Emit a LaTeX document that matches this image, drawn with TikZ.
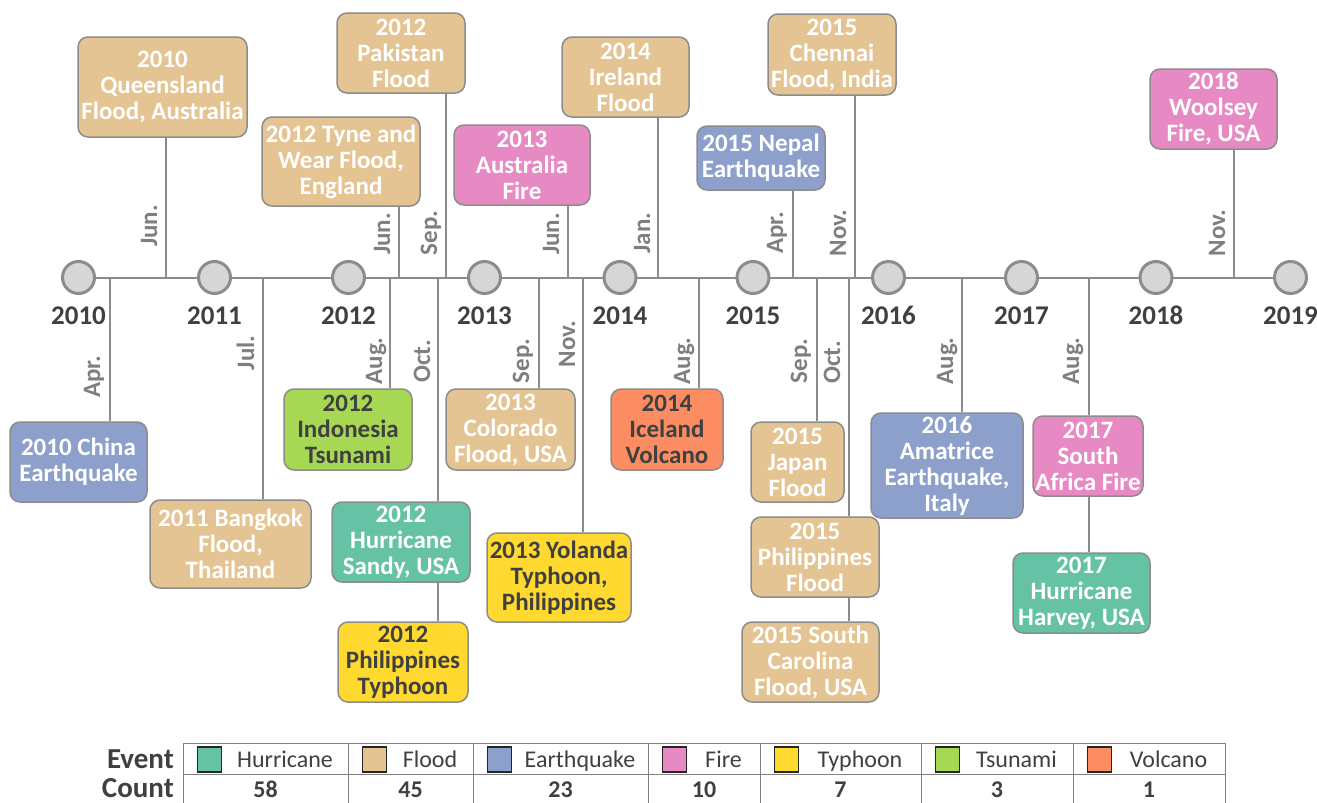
\documentclass[tikz,border=0pt]{standalone}
\usepackage{fontspec}
\setmainfont{Carlito}
\usetikzlibrary{calc}
\definecolor{hurr}{HTML}{66C2A5}
\definecolor{flood}{HTML}{E5C494}
\definecolor{quake}{HTML}{8DA0CB}
\definecolor{fire}{HTML}{E78AC3}
\definecolor{typh}{HTML}{FFD92F}
\definecolor{tsun}{HTML}{A6D854}
\definecolor{volc}{HTML}{FC8D62}
\definecolor{dark}{HTML}{404040}
\definecolor{linegray}{HTML}{8C8C8C}
\definecolor{mongray}{HTML}{7F7F7F}
\definecolor{circfill}{HTML}{D6D6D6}
\definecolor{tabline}{HTML}{808080}
\definecolor{swline}{HTML}{262626}
\tikzset{
  ev/.style={draw=linegray, line width=1.5pt, rounded corners=10pt, inner sep=0pt,
    align=center, text=white, font=\fontsize{25}{26}\selectfont\bfseries},
  stem/.style={draw=linegray, line width=2pt},
  yearcirc/.style={circle, draw=linegray, fill=circfill, line width=3pt, minimum size=32pt, inner sep=0pt},
  yearlab/.style={anchor=base, text=dark, inner sep=0pt, font=\fontsize{27}{27}\selectfont\bfseries},
  mon/.style={rotate=90, anchor=base, text=mongray, inner sep=0pt, font=\fontsize{25}{25}\selectfont\bfseries},
  tab/.style={draw=tabline, line width=1pt},
  swatch/.style={draw=swline, line width=1.2pt, minimum width=24pt, minimum height=25pt, inner sep=0pt},
  leglab/.style={anchor=base, text=dark, inner sep=0pt, font=\fontsize{24}{24}\selectfont},
  cnt/.style={anchor=base, text=dark, inner sep=0pt, font=\fontsize{24}{24}\selectfont\bfseries},
  rowlab/.style={anchor=base east, text=dark, inner sep=0pt, font=\fontsize{29}{29}\selectfont\bfseries}
}
\newcommand\evnode[7][]{%
  \node[ev,#1,minimum width={#5-#3},minimum height={#6-#4}] (#2) at ({(#3+#5)/2},{(#4+#6)/2}) {#7};}
\begin{document}
\begin{tikzpicture}[x=1pt,y=-1pt]
\useasboundingbox (0,0) rectangle (1317,803);
% year coordinates
\coordinate (y2010) at (78.5,277.5);
\coordinate (y2011) at (214.5,277.5);
\coordinate (y2012) at (348.5,277.5);
\coordinate (y2013) at (484.5,277.5);
\coordinate (y2014) at (620,277.5);
\coordinate (y2015) at (753,277.5);
\coordinate (y2016) at (888.5,277.5);
\coordinate (y2017) at (1021.5,277.5);
\coordinate (y2018) at (1156,277.5);
\coordinate (y2019) at (1290.5,277.5);
\draw[stem] (y2010) -- (y2019);
% stem points on timeline
\foreach \n/\x in {sq/166,sty/399,spk/446,saf/568,sir/658,snp/793,sch/855,swo/1234,
  scn/110,sbk/263,sin/390,ssa/438,sco/539,syo/583,sic/699,sjp/817,spf/849,sam/962,ssf/1089}
  {\coordinate (\n) at (\x,277.5);}
% top events
\evnode[fill=flood]{bq}{78}{37}{247}{137}{2010\\Queensland\\Flood, Australia}
\evnode[fill=flood]{bty}{262}{117}{420}{206}{2012 Tyne and\\Wear Flood,\\England}
\evnode[fill=flood]{bpk}{337}{13}{465}{93}{2012\\Pakistan\\Flood}
\evnode[fill=fire]{baf}{454}{125}{590}{205}{2013\\Australia\\Fire}
\evnode[fill=flood]{bir}{562}{37}{689}{117}{2014\\Ireland\\Flood}
\evnode[fill=quake]{bnp}{697}{126}{825}{190}{2015 Nepal\\Earthquake}
\evnode[fill=flood]{bch}{768}{14}{896}{95}{2015\\Chennai\\Flood, India}
\evnode[fill=fire]{bwo}{1150}{69}{1277}{149}{2018\\Woolsey\\Fire, USA}
% bottom events
\evnode[fill=quake]{bcn}{10}{422}{147}{502}{2010 China\\Earthquake}
\evnode[fill=flood]{bbk}{150}{500}{311}{588}{2011 Bangkok\\Flood,\\Thailand}
\evnode[fill=tsun,text=dark]{bin}{284}{389}{412}{470}{2012\\Indonesia\\Tsunami}
\evnode[fill=hurr]{bsa}{332}{502}{470}{582}{2012\\Hurricane\\Sandy, USA}
\evnode[fill=typh,text=dark]{bpt}{338}{622}{468}{702}{2012\\Philippines\\Typhoon}
\evnode[fill=flood]{bco}{446}{389}{575}{470}{2013\\Colorado\\Flood, USA}
\evnode[fill=typh,text=dark]{byo}{487}{533}{631}{622}{2013 Yolanda\\Typhoon,\\Philippines}
\evnode[fill=volc,text=dark]{bic}{611}{389}{723}{470}{2014\\Iceland\\Volcano}
\evnode[fill=flood]{bjp}{751}{422}{844}{502}{2015\\Japan\\Flood}
\evnode[fill=flood]{bpf}{751}{517}{879}{597}{2015\\Philippines\\Flood}
\evnode[fill=flood]{bsc}{742}{622}{879}{702}{2015 South\\Carolina\\Flood, USA}
\evnode[fill=quake]{bam}{871}{413}{1023}{518}{2016\\Amatrice\\Earthquake,\\Italy}
\evnode[fill=fire]{bsf}{1033}{416}{1143}{496}{2017\\South\\Africa Fire}
\evnode[fill=hurr]{bhv}{1013}{553}{1150}{633}{2017\\Hurricane\\Harvey, USA}
% stems top
\foreach \s/\b in {sq/bq,sty/bty,spk/bpk,saf/baf,sir/bir,snp/bnp,sch/bch,swo/bwo}
  {\draw[stem] (\s) -- (\s |- \b.south);}
% stems bottom
\foreach \s/\b in {scn/bcn,sbk/bbk,sin/bin,ssa/bsa,sco/bco,syo/byo,sic/bic,sjp/bjp,spf/bpf,sam/bam,ssf/bsf}
  {\draw[stem] (\s) -- (\s |- \b.north);}
\draw[stem] (ssa |- bsa.south) -- (ssa |- bpt.north);
\draw[stem] (spf |- bpf.south) -- (spf |- bsc.north);
\draw[stem] (ssf |- bsf.south) -- (ssf |- bhv.north);
% year circles and labels
\foreach \yr in {2010,2011,2012,2013,2014,2015,2016,2017,2018,2019}{
  \node[yearcirc] (c\yr) at (y\yr) {};
  \node[yearlab] (l\yr) at ($(y\yr)+(0,46.5)$) {\yr};
}
% month labels top
\node[mon] (mq) at (157,226) {Jun.};
\node[mon] (mty) at (390,234) {Jun.};
\node[mon] (mpk) at (437,233) {Sep.};
\node[mon] (maf) at (559,234) {Jun.};
\node[mon] (mir) at (650,233) {Jan.};
\node[mon] (mnp) at (783,233) {Apr.};
\node[mon] (mch) at (846,233) {Nov.};
\node[mon] (mwo) at (1225,233) {Nov.};
% month labels bottom
\node[mon] (mcn) at (100,377) {Apr.};
\node[mon] (mbk) at (254,353) {Jul.};
\node[mon] (min) at (382,361) {Aug.};
\node[mon] (msa) at (430,361) {Oct.};
\node[mon] (mco) at (529,361) {Sep.};
\node[mon] (myo) at (575,344) {Nov.};
\node[mon] (mic) at (690,361) {Aug.};
\node[mon] (mjp) at (807,361) {Sep.};
\node[mon] (mpf) at (840,362) {Oct.};
\node[mon] (mam) at (953,361) {Aug.};
\node[mon] (msf) at (1079,361) {Aug.};
% table
\draw[tab] (183,743) -- (1225,743);
\draw[tab] (183,774) -- (1225,774);
\foreach \x in {183,348,473,648,760,921,1073,1225}
  {\draw[tab] (\x,743) -- (\x,803);}
\node[rowlab] (ev) at (174,768) {Event};
\node[rowlab] (ct) at (174,797) {Count};
\foreach \a/\b/\c/\lab/\num [count=\i] in {183/348/hurr/Hurricane/58,348/473/flood/Flood/45,473/648/quake/Earthquake/23,
  648/760/fire/Fire/10,760/921/typh/Typhoon/7,921/1073/tsun/Tsunami/3,1073/1225/volc/Volcano/1}{
  \node[swatch, fill=\c] (sw\i) at ({\a+26.5},759.5) {};
  \node[leglab] (lg\i) at ({(\a+39+\b)/2},767) {\lab};
  \node[cnt] (cn\i) at ({(\a+\b)/2},797) {\num};
}
\end{tikzpicture}
\end{document}
